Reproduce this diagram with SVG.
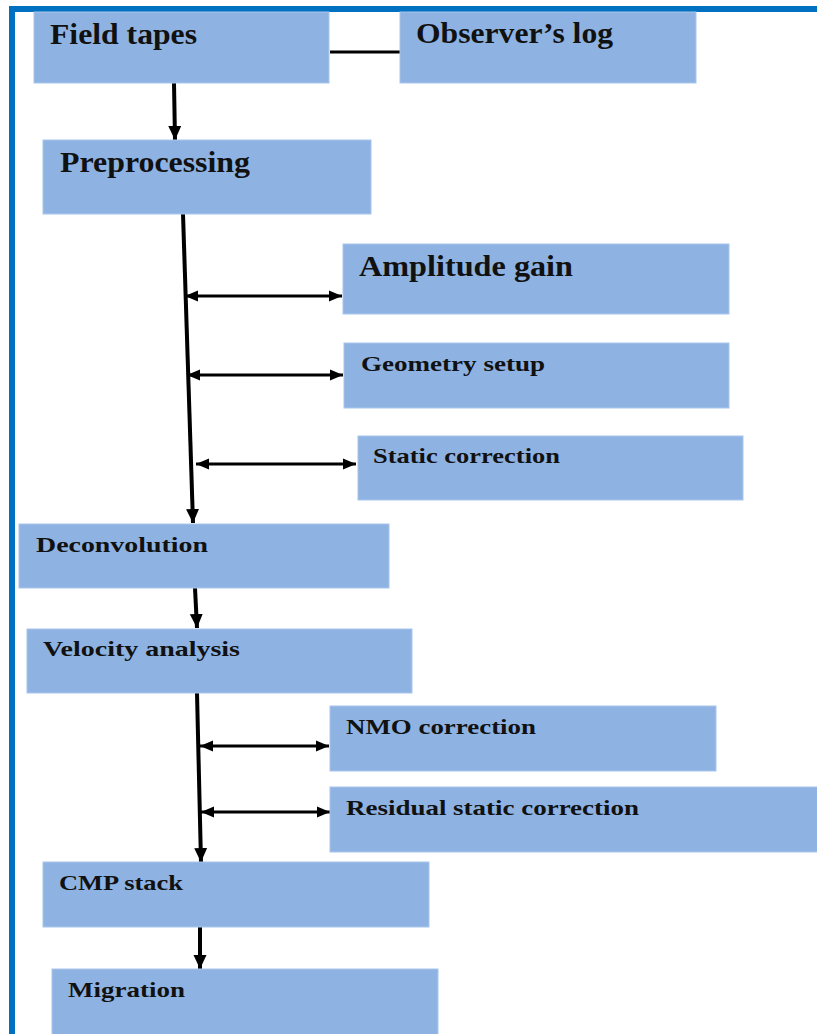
<svg xmlns="http://www.w3.org/2000/svg" width="817" height="1034" viewBox="0 0 817 1034">
<style>
.box{fill:#8EB3E2;stroke:#A9C6EC;stroke-width:1}
.t{font-family:"Liberation Serif","Times New Roman",serif;font-weight:bold;fill:#111}
.lg{font-size:29px}
.sm{font-size:22px}
.c{stroke:#000;fill:none;stroke-width:4}
.d{stroke:#000;fill:none;stroke-width:3}
</style>
<defs>
<marker id="ah" markerUnits="userSpaceOnUse" markerWidth="16" markerHeight="16" viewBox="0 0 16 16" refX="14" refY="8" orient="auto">
<path d="M0,1.5 L14,8 L0,14.5 Z" fill="#000"/>
</marker>
<marker id="ah2" markerUnits="userSpaceOnUse" markerWidth="14" markerHeight="14" viewBox="0 0 14 14" refX="13" refY="7" orient="auto-start-reverse">
<path d="M0,1.5 L13,7 L0,12.5 Z" fill="#000"/>
</marker>
</defs>
<rect x="9" y="6" width="808" height="6" fill="#0070C0"/>
<rect x="9" y="6" width="6" height="1028" fill="#0070C0"/>
<g id="connectors">
<line class="d" x1="330" y1="52" x2="400" y2="52"/>
<line class="c" x1="174" y1="83" x2="175" y2="140" marker-end="url(#ah)"/>
<line class="c" x1="183" y1="214" x2="193" y2="523" marker-end="url(#ah)"/>
<line class="c" x1="195" y1="588" x2="197" y2="628" marker-end="url(#ah)"/>
<line class="c" x1="197" y1="693" x2="201" y2="862" marker-end="url(#ah)"/>
<line class="c" x1="200" y1="927" x2="200" y2="969" marker-end="url(#ah)"/>
<line class="d" x1="185" y1="296" x2="342" y2="296" marker-start="url(#ah2)" marker-end="url(#ah2)"/>
<line class="d" x1="187" y1="375" x2="343" y2="375" marker-start="url(#ah2)" marker-end="url(#ah2)"/>
<line class="d" x1="196" y1="464" x2="356" y2="464" marker-start="url(#ah2)" marker-end="url(#ah2)"/>
<line class="d" x1="200" y1="746" x2="329" y2="746" marker-start="url(#ah2)" marker-end="url(#ah2)"/>
<line class="d" x1="201" y1="812" x2="330" y2="812" marker-start="url(#ah2)" marker-end="url(#ah2)"/>
</g>
<g id="field-tapes"><rect class="box" x="34" y="12" width="295" height="71"/><text class="t lg" x="50" y="44" textLength="147" lengthAdjust="spacingAndGlyphs">Field tapes</text></g>
<g id="observers-log"><rect class="box" x="400" y="12" width="296" height="71"/><text class="t lg" x="416" y="43" textLength="197" lengthAdjust="spacingAndGlyphs">Observer’s log</text></g>
<g id="preprocessing"><rect class="box" x="43" y="140" width="328" height="74"/><text class="t lg" x="60" y="172" textLength="190" lengthAdjust="spacingAndGlyphs">Preprocessing</text></g>
<g id="amplitude-gain"><rect class="box" x="343" y="244" width="386" height="70"/><text class="t lg" x="359" y="276" textLength="214" lengthAdjust="spacingAndGlyphs">Amplitude gain</text></g>
<g id="geometry-setup"><rect class="box" x="344" y="343" width="385" height="65"/><text class="t sm" x="361" y="371" textLength="184" lengthAdjust="spacingAndGlyphs">Geometry setup</text></g>
<g id="static-correction"><rect class="box" x="358" y="436" width="385" height="64"/><text class="t sm" x="373" y="463" textLength="187" lengthAdjust="spacingAndGlyphs">Static correction</text></g>
<g id="deconvolution"><rect class="box" x="19" y="524" width="370" height="64"/><text class="t sm" x="36" y="552" textLength="172" lengthAdjust="spacingAndGlyphs">Deconvolution</text></g>
<g id="velocity-analysis"><rect class="box" x="27" y="629" width="385" height="64"/><text class="t sm" x="43" y="656" textLength="197" lengthAdjust="spacingAndGlyphs">Velocity analysis</text></g>
<g id="nmo-correction"><rect class="box" x="330" y="706" width="386" height="65"/><text class="t sm" x="346" y="734" textLength="190" lengthAdjust="spacingAndGlyphs">NMO correction</text></g>
<g id="residual-static-correction"><rect class="box" x="330" y="787" width="490" height="65"/><text class="t sm" x="346" y="815" textLength="293" lengthAdjust="spacingAndGlyphs">Residual static correction</text></g>
<g id="cmp-stack"><rect class="box" x="43" y="862" width="386" height="65"/><text class="t sm" x="59" y="890" textLength="124" lengthAdjust="spacingAndGlyphs">CMP stack</text></g>
<g id="migration"><rect class="box" x="52" y="969" width="386" height="70"/><text class="t sm" x="68" y="997" textLength="117" lengthAdjust="spacingAndGlyphs">Migration</text></g>
</svg>
